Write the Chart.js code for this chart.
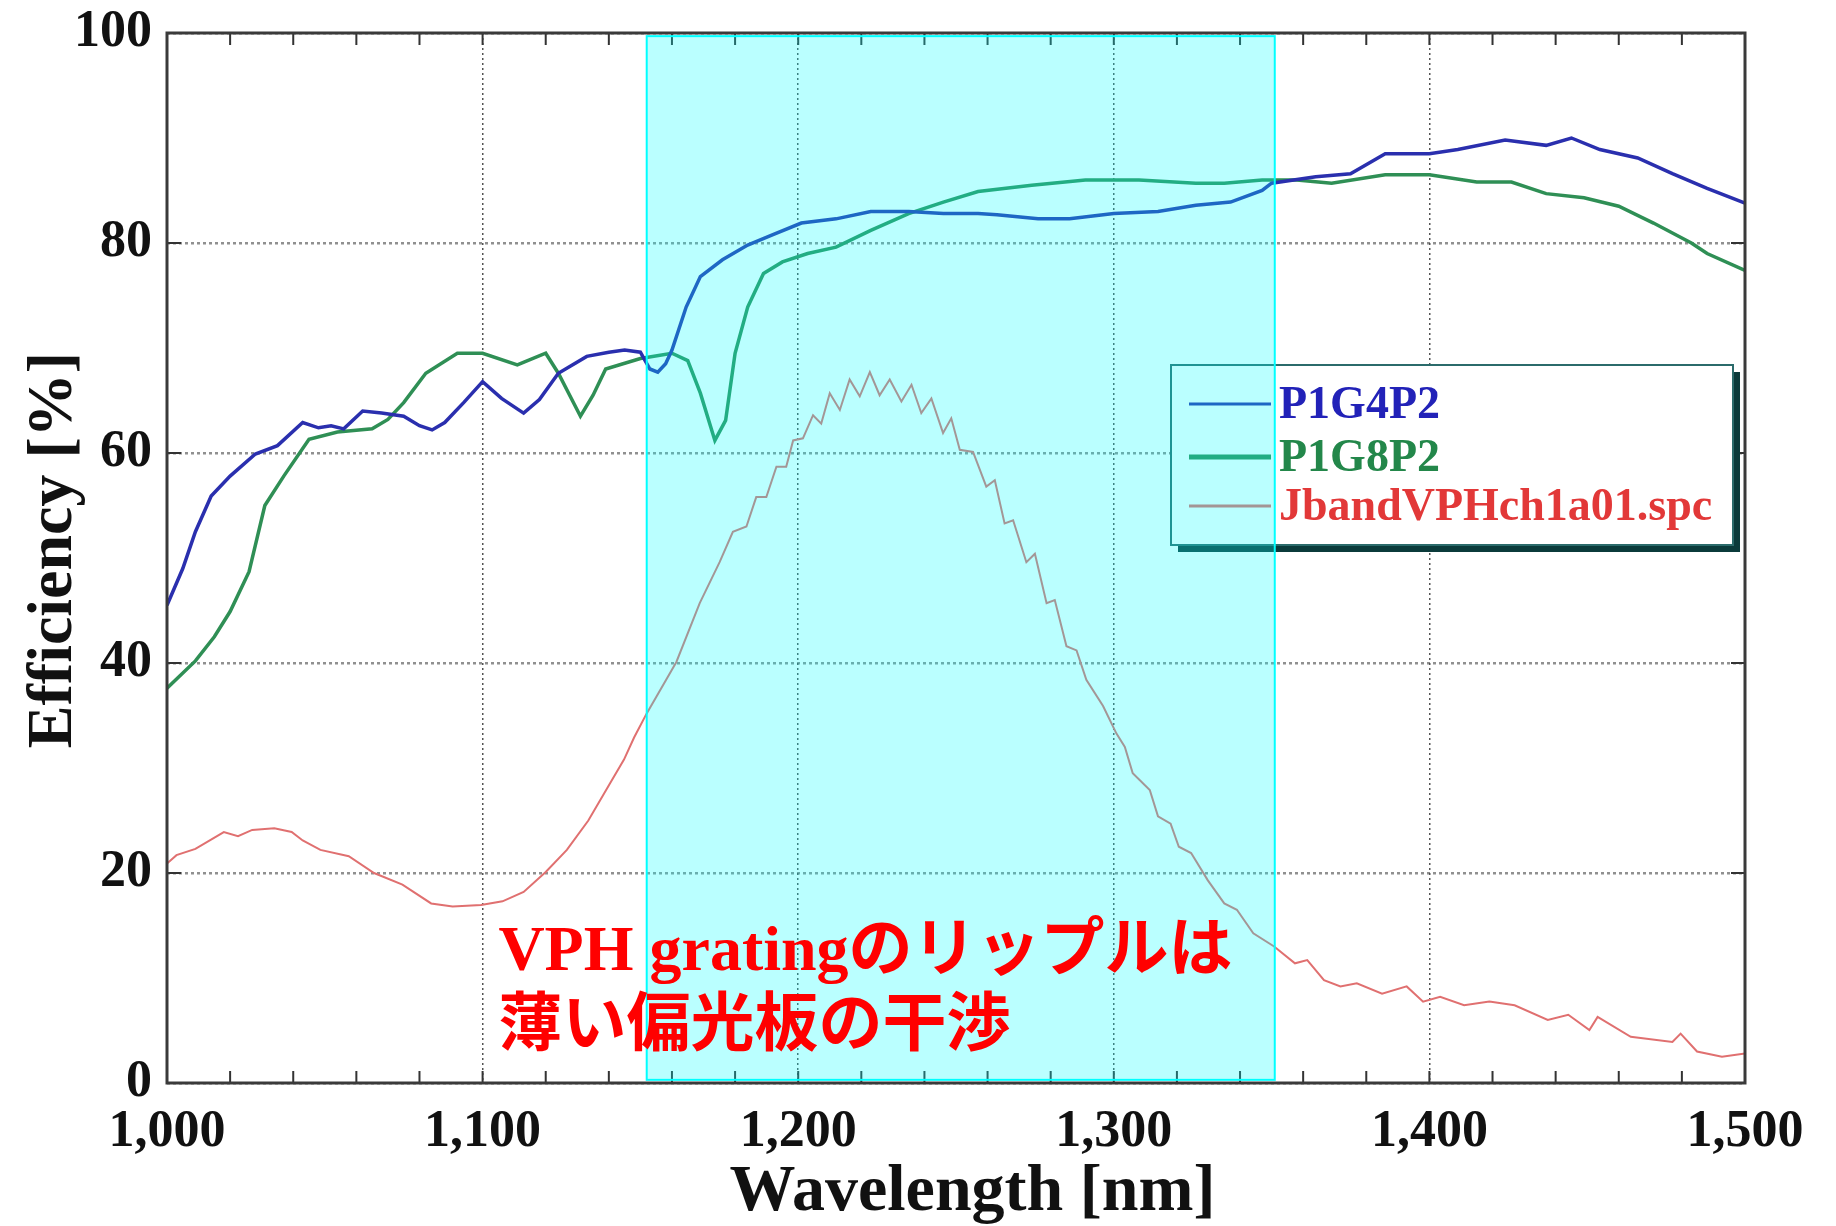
<!DOCTYPE html>
<html>
<head>
    <meta charset="UTF-8">
    <title>VPH grating efficiency</title>
    <script src="https://cdn.jsdelivr.net/npm/chart.js"></script>
    <style>
        body {
            margin: 0;
            background: white;
        }
        .chart-box {
            position: relative;
            width: 1836px;
            height: 1226px;
        }
    </style>
</head>
<body>
    <div class="chart-box">
        <canvas id="effChart"></canvas>
    </div>

    <script>
        // Readings from the plot: wavelength [nm] and efficiency [%]
        const seriesNames = ['P1G4P2', 'P1G8P2', 'JbandVPHch1a01.spc'];

        const blueWl = [1000, 1005, 1009, 1014, 1020, 1028, 1035, 1043, 1048, 1052, 1056, 1062, 1068, 1075, 1080,
            1084, 1088, 1094, 1100, 1106, 1113, 1118, 1124, 1133, 1140, 1145, 1150, 1153, 1155.5, 1158, 1160,
            1164.5, 1169, 1176, 1184, 1192, 1201, 1212, 1223, 1235, 1246, 1257, 1263, 1276, 1286, 1300, 1314,
            1326, 1337, 1347, 1350, 1364, 1375, 1386, 1400, 1409, 1424, 1437, 1445, 1454, 1466, 1477, 1488, 1500];
        const blueEff = [45.5, 49, 52.5, 55.9, 57.8, 59.9, 60.7, 62.9, 62.4, 62.6, 62.3, 64.0, 63.8, 63.5, 62.6,
            62.2, 62.9, 64.8, 66.8, 65.2, 63.8, 65.1, 67.6, 69.2, 69.6, 69.8, 69.6, 68.0, 67.7, 68.5, 69.8,
            73.9, 76.8, 78.4, 79.8, 80.8, 81.9, 82.3, 83.0, 83.0, 82.8, 82.8, 82.7, 82.3, 82.3, 82.8, 83.0,
            83.6, 83.9, 85.0, 85.7, 86.3, 86.6, 88.5, 88.5, 88.9, 89.8, 89.3, 90.0, 88.9, 88.1, 86.6, 85.2, 83.8];

        const greenWl = [1000, 1009, 1015, 1020, 1026, 1031, 1037, 1045, 1054, 1065, 1070, 1075, 1082, 1092, 1100,
            1111, 1120, 1124, 1131, 1135, 1139, 1150, 1160, 1165, 1169, 1173.6, 1177, 1180, 1184, 1189, 1195,
            1203, 1212, 1223, 1235, 1246, 1257, 1274, 1291, 1308, 1326, 1335, 1347, 1358, 1369, 1386, 1400,
            1415, 1426, 1437, 1449, 1460, 1471, 1483, 1488, 1500];
        const greenEff = [37.6, 40.2, 42.5, 44.9, 48.7, 55.0, 57.8, 61.3, 62.0, 62.3, 63.2, 64.8, 67.6, 69.5, 69.5,
            68.4, 69.5, 67.6, 63.5, 65.5, 68.0, 69.0, 69.5, 68.8, 65.7, 61.2, 63.1, 69.5, 73.9, 77.1, 78.2,
            79.0, 79.6, 81.2, 82.8, 83.9, 84.9, 85.5, 86.0, 86.0, 85.7, 85.7, 86.0, 86.0, 85.7, 86.5, 86.5,
            85.8, 85.8, 84.7, 84.3, 83.5, 81.9, 80.0, 79.0, 77.4];

        const redWl = [1000, 1003, 1009, 1018, 1022.5, 1027, 1034, 1039.5, 1043, 1048.6, 1057.6, 1065.6, 1074.6,
            1083.7, 1090.5, 1099.5, 1106.3, 1113, 1120, 1126.7, 1133.5, 1140.3, 1144.8, 1148, 1152, 1161.4,
            1168.8, 1175.1, 1179.3, 1183.6, 1186.7, 1189.9, 1193.1, 1196.2, 1198.4, 1201.5, 1204.7, 1207.3,
            1210, 1213.2, 1216.3, 1219.5, 1222.7, 1225.8, 1229, 1232.7, 1235.9, 1239, 1242.2, 1245.9, 1248.5,
            1251.2, 1255.4, 1259.6, 1262.3, 1265.4, 1268.1, 1272.3, 1275, 1278.7, 1281.3, 1285, 1288.2, 1291.3,
            1296.6, 1300.8, 1303.5, 1306, 1311.4, 1314, 1318, 1320.6, 1324.5, 1329.8, 1335, 1339, 1344.2,
            1350.8, 1357.4, 1361.3, 1366.6, 1371.8, 1377, 1385, 1392.8, 1398, 1403.4, 1411, 1419, 1427,
            1437.5, 1444, 1450.7, 1453.3, 1463.8, 1477, 1479.6, 1484.8, 1492.7, 1500];
        const redEff = [20.9, 21.7, 22.3, 23.9, 23.5, 24.1, 24.25, 23.9, 23.1, 22.2, 21.6, 20.0, 18.9,
            17.1, 16.8, 16.95, 17.3, 18.2, 20.1, 22.2, 25.0, 28.5, 30.8, 32.9, 35.2, 40.1,
            45.7, 49.6, 52.5, 53.0, 55.8, 55.8, 58.7, 58.7, 61.2, 61.4, 63.6, 62.8,
            65.7, 64.1, 67.0, 65.4, 67.7, 65.5, 67.0, 64.9, 66.5, 63.8, 65.2, 61.9, 63.3,
            60.3, 60.1, 56.8, 57.4, 53.3, 53.6, 49.6, 50.4, 45.7, 46.0, 41.6, 41.2, 38.4,
            35.9, 33.3, 32.0, 29.5, 27.9, 25.4, 24.7, 22.5, 21.9, 19.3, 17.1, 16.5, 14.25,
            13.0, 11.4, 11.7, 9.8, 9.2, 9.5, 8.5, 9.2, 7.75, 8.2, 7.4, 7.75, 7.4,
            6.0, 6.5, 5.05, 6.3, 4.4, 3.9, 4.7, 3.0, 2.5, 2.8];

        const xTicks = [1000, 1100, 1200, 1300, 1400, 1500];
        const yTicks = [0, 20, 40, 60, 80, 100];
        // highlighted band [nm]
        const bandRange = [1152, 1351];
        const noteLines = ['VPH gratingのリップルは', '薄い偏光板の干渉'];

        const toPoints = (xs, ys) => xs.map((x, i) => ({x: x, y: ys[i]}));

        const serif = '"Liberation Serif", "Times New Roman", serif';

        // frame, minor ticks, legend box, band and note
        const overlayPlugin = {
            id: 'overlay',
            afterDatasetsDraw(chart) {
                const ctx = chart.ctx;
                const area = chart.chartArea;
                const xs = chart.scales.x;
                const ys = chart.scales.y;
                ctx.save();

                // minor ticks top and bottom
                ctx.strokeStyle = '#333';
                ctx.lineWidth = 2;
                for (let v = 1000; v <= 1500; v += 20) {
                    const px = xs.getPixelForValue(v);
                    ctx.beginPath();
                    ctx.moveTo(px, area.bottom);
                    ctx.lineTo(px, area.bottom - 12);
                    ctx.moveTo(px, area.top);
                    ctx.lineTo(px, area.top + 12);
                    ctx.stroke();
                }
                yTicks.forEach(v => {
                    const py = ys.getPixelForValue(v);
                    ctx.beginPath();
                    ctx.moveTo(area.left, py);
                    ctx.lineTo(area.left + 14, py);
                    ctx.moveTo(area.right, py);
                    ctx.lineTo(area.right - 14, py);
                    ctx.stroke();
                });

                // frame
                ctx.strokeStyle = '#3a3a3a';
                ctx.lineWidth = 3;
                ctx.strokeRect(area.left, area.top, area.right - area.left, area.bottom - area.top);

                // legend
                const lx = 1171, ly = 365, lw = 562, lh = 180;
                ctx.fillStyle = '#0b3b3b';
                ctx.fillRect(lx + 7, ly + 7, lw, lh);
                ctx.fillStyle = 'white';
                ctx.fillRect(lx, ly, lw, lh);
                ctx.strokeStyle = '#2b6b6b';
                ctx.lineWidth = 2;
                ctx.strokeRect(lx, ly, lw, lh);
                const rows = [404, 457, 506];
                const textColors = ['#2222b8', '#23874a', '#e23838'];
                ctx.font = 'bold 46px ' + serif;
                ctx.textBaseline = 'middle';
                ctx.textAlign = 'left';
                chart.data.datasets.forEach((ds, i) => {
                    ctx.strokeStyle = ds.borderColor;
                    ctx.lineWidth = i === 1 ? 5 : 3;
                    ctx.beginPath();
                    ctx.moveTo(1189, rows[i]);
                    ctx.lineTo(1271, rows[i]);
                    ctx.stroke();
                    ctx.fillStyle = textColors[i];
                    ctx.fillText(ds.label, 1279, rows[i] + 2);
                });

                // band
                const bx0 = xs.getPixelForValue(bandRange[0]);
                const bx1 = xs.getPixelForValue(bandRange[1]);
                const by0 = ys.getPixelForValue(99.7);
                const by1 = ys.getPixelForValue(0.3);
                ctx.fillStyle = 'rgba(0, 255, 255, 0.27)';
                ctx.fillRect(bx0, by0, bx1 - bx0, by1 - by0);
                ctx.strokeStyle = '#00ffff';
                ctx.lineWidth = 2;
                ctx.strokeRect(bx0, by0, bx1 - bx0, by1 - by0);

                // note
                ctx.fillStyle = '#ff0000';
                ctx.font = 'bold 64px ' + serif + ', "Noto Sans CJK JP"';
                ctx.textBaseline = 'alphabetic';
                const nx = xs.getPixelForValue(1105);
                ctx.fillText(noteLines[0], nx, ys.getPixelForValue(10.8));
                ctx.fillText(noteLines[1], nx, ys.getPixelForValue(3.6));
                ctx.restore();
            }
        };

        const ctx = document.getElementById('effChart').getContext('2d');
        const chart = new Chart(ctx, {
            type: 'line',
            data: {
                datasets: [{
                    label: seriesNames[0],
                    data: toPoints(blueWl, blueEff),
                    borderColor: '#2a2fae',
                    borderWidth: 3.5
                }, {
                    label: seriesNames[1],
                    data: toPoints(greenWl, greenEff),
                    borderColor: '#2f8f55',
                    borderWidth: 3.5
                }, {
                    label: seriesNames[2],
                    data: toPoints(redWl, redEff),
                    borderColor: '#e07070',
                    borderWidth: 2
                }]
            },
            options: {
                responsive: true,
                maintainAspectRatio: false,
                animation: false,
                elements: {
                    point: {radius: 0},
                    line: {tension: 0}
                },
                layout: {
                    padding: {top: 33, right: 91, bottom: 0, left: 0}
                },
                plugins: {
                    legend: {display: false},
                    tooltip: {enabled: false}
                },
                scales: {
                    x: {
                        type: 'linear',
                        min: 1000,
                        max: 1500,
                        afterFit: s => { s.height = 143; },
                        afterBuildTicks: s => { s.ticks = xTicks.map(v => ({value: v})); },
                        ticks: {
                            color: '#111',
                            padding: 18,
                            font: {family: serif, size: 52, weight: 'bold'},
                            callback: v => v.toLocaleString('en-US')
                        },
                        grid: {
                            color: 'rgba(40,40,40,0.8)',
                            lineWidth: 1.5,
                            drawTicks: false
                        },
                        border: {display: false, dash: [2, 3]},
                        title: {
                            display: true,
                            text: '\u2002Wavelength [nm]',
                            color: '#111',
                            padding: {top: 0, bottom: 0},
                            font: {family: serif, size: 66, weight: 'bold', lineHeight: 1}
                        }
                    },
                    y: {
                        min: 0,
                        max: 100,
                        afterFit: s => {
                            s.width = 167;
                            s.paddingTop = 0;
                            s.paddingBottom = 0;
                        },
                        afterBuildTicks: s => { s.ticks = yTicks.map(v => ({value: v})); },
                        ticks: {
                            color: '#111',
                            padding: 15,
                            font: {family: serif, size: 52, weight: 'bold'}
                        },
                        grid: {
                            color: 'rgba(70,70,70,0.6)',
                            lineWidth: 2.5,
                            drawTicks: false
                        },
                        border: {display: false, dash: [3, 3]},
                        title: {
                            display: true,
                            text: ' Efficiency [%]',
                            color: '#111',
                            padding: {top: 22, bottom: 0},
                            font: {family: serif, size: 64, weight: 'bold', lineHeight: 1}
                        }
                    }
                }
            },
            plugins: [overlayPlugin]
        });
    </script>
</body>
</html>
